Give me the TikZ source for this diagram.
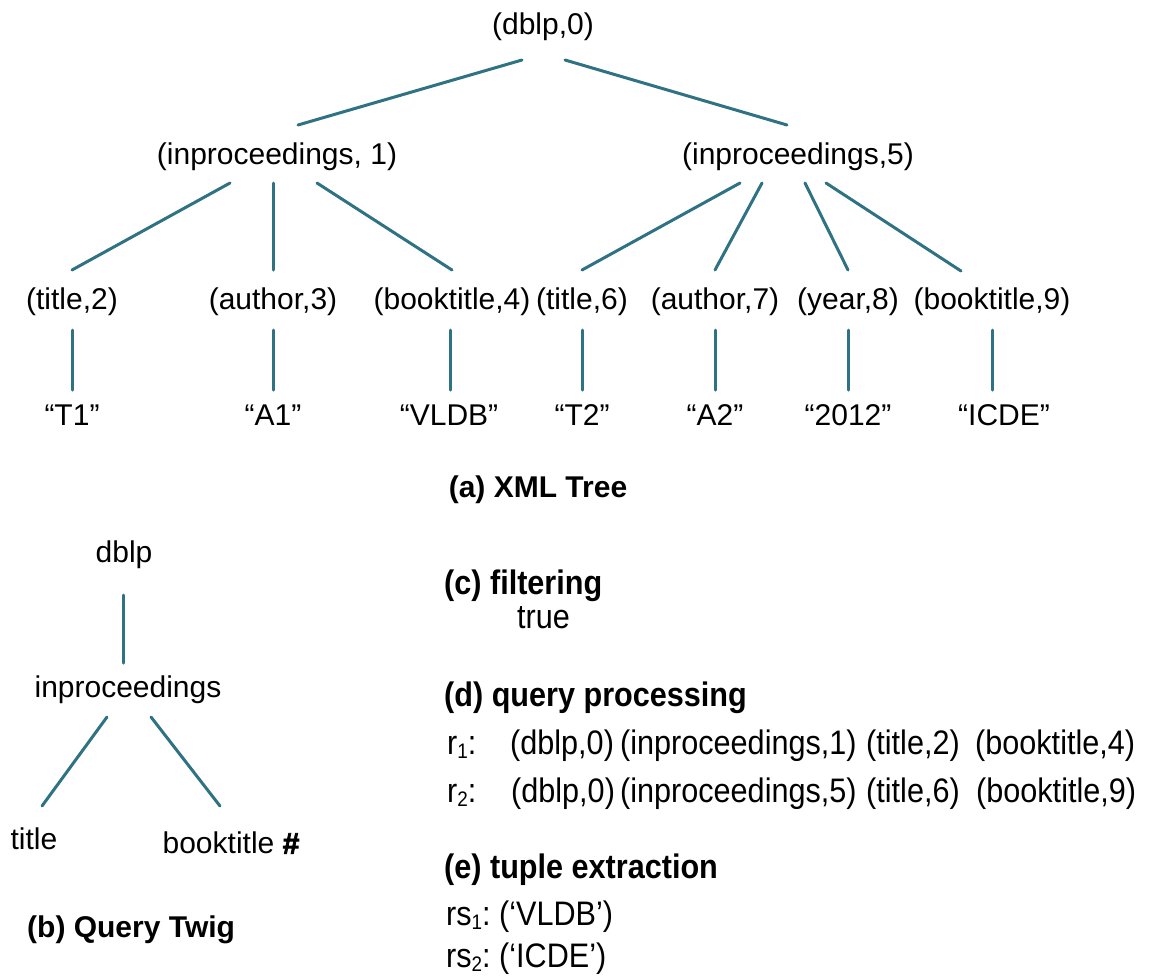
\documentclass[tikz,border=0pt]{standalone}
\usepackage{fontspec}
\setmainfont{Liberation Sans}
\newfontfamily\narrowfont[FakeStretch=0.9]{Liberation Sans}
\newfontfamily\heavyfont[FakeBold=2.5]{Liberation Sans Bold}
\usetikzlibrary{calc}
\definecolor{edgeteal}{HTML}{2E7283}
% small lowered index used in the result rows
\newcommand{\lowidx}[1]{\raisebox{-0.25ex}{\fontsize{21}{22}\selectfont #1}}
\tikzset{
  lbl/.style={inner sep=0pt, font=\fontsize{30}{36}\selectfont},
  tnode/.style={lbl, text height=22pt, text depth=6.5pt},
  edge/.style={draw=edgeteal, line width=3pt, line cap=round},
  caption/.style={inner sep=0pt, font=\fontsize{30}{36}\selectfont\bfseries},
  nlbl/.style={inner sep=0pt, anchor=west, text height=25pt, text depth=7pt,
    font=\narrowfont\fontsize{34}{40}\selectfont},
  nhead/.style={nlbl, font=\narrowfont\fontsize{34}{40}\selectfont\bfseries},
}
\begin{document}
\begin{tikzpicture}[x=1pt, y=-1pt]
\useasboundingbox (0,0) rectangle (1150,975);

% ---- (a) XML tree ----
\node[tnode] (root) at (543,27) {(dblp,0)};
\node[tnode] (in1) at (277,157) {(inproceedings, 1)};
\node[tnode] (in5) at (798,157) {(inproceedings,5)};

\node[tnode] (t2) at (72,302) {(title,2)};
\node[tnode] (a3) at (273,302) {(author,3)};
\node[tnode] (b4) at (452,302) {(booktitle,4)};
\node[tnode] (t6) at (582,302) {(title,6)};
\node[tnode] (a7) at (715,302) {(author,7)};
\node[tnode] (y8) at (848,302) {(year,8)};
\node[tnode] (b9) at (992,302) {(booktitle,9)};

\node[tnode] (vT1) at (72,418) {“T1”};
\node[tnode] (vA1) at (273,418) {“A1”};
\node[tnode] (vVLDB) at (449,418) {“VLDB”};
\node[tnode] (vT2) at (582,418) {“T2”};
\node[tnode] (vA2) at (715,418) {“A2”};
\node[tnode] (v2012) at (848,418) {“2012”};
\node[tnode] (vICDE) at (1004,418) {“ICDE”};

\draw[edge] ($(root)+(-21,33)$) -- ($(in1)+(21,-32)$);
\draw[edge] ($(root)+(22,33)$) -- ($(in5)+(-11,-32)$);

\draw[edge] ($(in1)+(-47,26)$) -- ($(t2)+(0,-32)$);
\draw[edge] ($(in1)+(-4,26)$) -- ($(a3)+(0,-32)$);
\draw[edge] ($(in1)+(40,26)$) -- ($(b4)+(0,-32)$);

\draw[edge] ($(in5)+(-58,26)$) -- ($(t6)+(0,-32)$);
\draw[edge] ($(in5)+(-36,26)$) -- ($(a7)+(0,-32)$);
\draw[edge] ($(in5)+(7,26)$) -- ($(y8)+(0,-32)$);
\draw[edge] ($(in5)+(28,26)$) -- ($(b9)+(-31,-31)$);

\foreach \p/\c in {t2/vT1, a3/vA1, t6/vT2, a7/vA2, y8/v2012}
  \draw[edge] ($(\p)+(0,28)$) -- ($(\c)+(0,-28)$);
\draw[edge] ($(b4)+(-2,28)$) -- ($(vVLDB)+(1,-28)$);
\draw[edge] ($(b9)+(0,28)$) -- ($(vICDE)+(-12,-28)$);

\node[caption] (capA) at (538,490) {(a) XML Tree};

% ---- (b) query twig ----
\node[tnode] (qdblp) at (124,555) {dblp};
\node[tnode] (qin) at (128,690) {inproceedings};
\node[tnode] (qtitle) at (34,842) {title};
\node[tnode] (qbook) at (231,846) {booktitle {\heavyfont\#}};

\draw[edge] ($(qdblp)+(-1,40)$) -- ($(qin)+(-5,-27)$);
\draw[edge] ($(qin)+(-21,27)$) -- ($(qtitle)+(8,-36)$);
\draw[edge] ($(qin)+(23,27)$) -- ($(qbook)+(-11,-40)$);

\node[caption, anchor=west] (capB) at (27,930) {(b) Query Twig};

% ---- (c) filtering ----
\node[nhead] (capC) at (444,585) {(c) filtering};
\node[nlbl] (ctrue) at (517,619) {true};

% ---- (d) query processing ----
\node[nhead] (capD) at (444,697) {(d) query processing};
\node[nlbl] (r1) at (447,745) {r\lowidx{1}:};
\node[nlbl] (r1a) at (510,745) {(dblp,0)};
\node[nlbl] (r1b) at (620,745) {(inproceedings,1)};
\node[nlbl] (r1c) at (866,745) {(title,2)};
\node[nlbl] (r1d) at (975,745) {(booktitle,4)};
\node[nlbl] (r2) at (447,793) {r\lowidx{2}:};
\node[nlbl] (r2a) at (511,793) {(dblp,0)};
\node[nlbl] (r2b) at (620,793) {(inproceedings,5)};
\node[nlbl] (r2c) at (866,793) {(title,6)};
\node[nlbl] (r2d) at (976,793) {(booktitle,9)};

% ---- (e) tuple extraction ----
\node[nhead] (capE) at (444,869) {(e) tuple extraction};
\node[nlbl] (rs1) at (446,916) {rs\lowidx{1}:};
\node[nlbl] (rs1v) at (499,916) {(‘VLDB’)};
\node[nlbl] (rs2) at (446,958) {rs\lowidx{2}:};
\node[nlbl] (rs2v) at (499,958) {(‘ICDE’)};
\end{tikzpicture}
\end{document}
